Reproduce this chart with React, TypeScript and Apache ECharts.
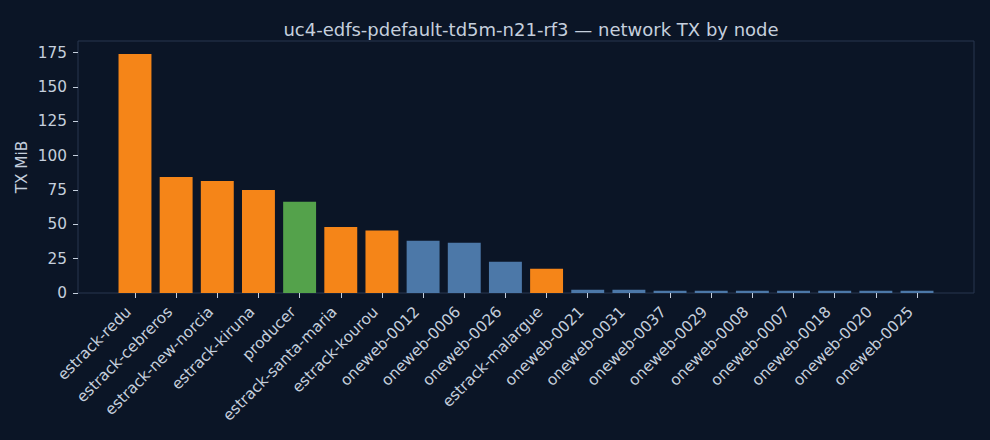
import React, { useEffect, useRef } from "react";
import * as echarts from "echarts";

const categories = [
  "estrack-redu", "estrack-cebreros", "estrack-new-norcia", "estrack-kiruna", "producer",
  "estrack-santa-maria", "estrack-kourou", "oneweb-0012", "oneweb-0006", "oneweb-0026",
  "estrack-malargue", "oneweb-0021", "oneweb-0031", "oneweb-0037", "oneweb-0029",
  "oneweb-0008", "oneweb-0007", "oneweb-0018", "oneweb-0020", "oneweb-0025",
];
const txMiB = [174, 84.5, 81.5, 75, 66.5, 48, 45.5, 38, 36.5, 22.8, 17.6, 2.3, 2.3, 1.6, 1.6, 1.6, 1.6, 1.6, 1.6, 1.6];
const roles = [
  "estrack", "estrack", "estrack", "estrack", "producer", "estrack", "estrack", "oneweb", "oneweb", "oneweb",
  "estrack", "oneweb", "oneweb", "oneweb", "oneweb", "oneweb", "oneweb", "oneweb", "oneweb", "oneweb",
];
const yTicks = [0, 25, 50, 75, 100, 125, 150, 175];
const roleColors: Record<string, string> = { estrack: "#f58518", producer: "#54a24b", oneweb: "#4c78a8" };

const BG = "#0b1526";
const TXT = "#c5cfdd";
const FRAME = "#28374f";
const FONT = "DejaVu Sans";

export default function App() {
  const ref = useRef<HTMLDivElement>(null);
  useEffect(() => {
    const chart = echarts.init(ref.current!, null, { renderer: "svg" });
    const yMax = 183.5;
    chart.setOption({
      animation: false,
      backgroundColor: BG,
      textStyle: { fontFamily: FONT },
      title: {
        text: "uc4-edfs-pdefault-td5m-n21-rf3 — network TX by node",
        left: 526,
        textAlign: "center",
        top: 15,
        textStyle: { color: TXT, fontSize: 18, fontWeight: "normal", fontFamily: FONT },
      },
      grid: [
        { left: 78, right: 16, top: 41, bottom: 147, show: true, borderColor: FRAME, borderWidth: 1, backgroundColor: "transparent" },
        { left: 114.4, width: 823.2, top: 41, bottom: 147 },
      ],
      xAxis: [
        { type: "value", gridIndex: 0, show: false, min: 0, max: 1 },
        {
          type: "category",
          gridIndex: 1,
          data: categories,
          axisLine: { show: false },
          axisTick: { show: true, alignWithLabel: true, length: 5, lineStyle: { color: TXT } },
          axisLabel: { rotate: 45, interval: 0, color: TXT, fontSize: 15.3, fontFamily: FONT, margin: 10, padding: [0, 9, 0, 0] },
        },
      ],
      yAxis: [
        {
          type: "value",
          gridIndex: 0,
          min: 0,
          max: yMax,
          name: "TX MiB",
          nameLocation: "middle",
          nameGap: 49,
          nameMoveOverlap: false,
          nameTextStyle: { color: TXT, fontSize: 15.3, fontFamily: FONT },
          axisLine: { show: false },
          axisTick: { show: true, length: 5, lineStyle: { color: TXT }, customValues: yTicks },
          axisLabel: { color: TXT, fontSize: 15.3, fontFamily: FONT, margin: 11, customValues: yTicks },
          splitLine: { show: false },
        },
        { type: "value", gridIndex: 1, min: 0, max: yMax, show: false },
      ],
      series: [
        {
          type: "bar",
          xAxisIndex: 1,
          yAxisIndex: 1,
          barWidth: "80%",
          data: txMiB.map((v, i) => ({ value: v, itemStyle: { color: roleColors[roles[i]] } })),
        },
      ],
    });
    return () => chart.dispose();
  }, []);
  return <div ref={ref} style={{ width: 990, height: 440, position: "absolute", left: 0, top: 0 }} />;
}
